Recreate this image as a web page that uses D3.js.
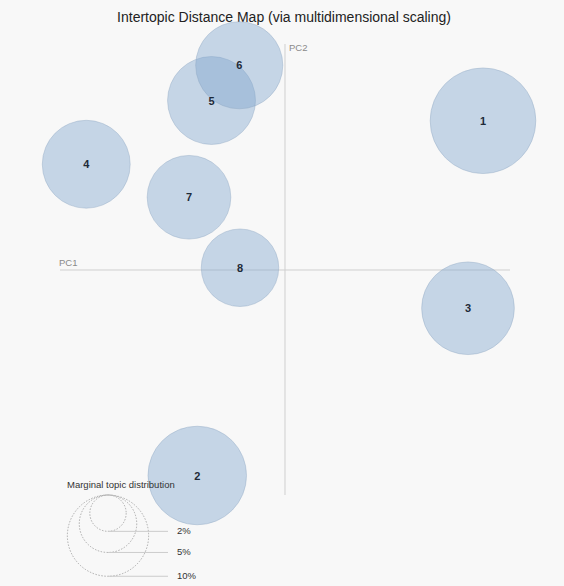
<!DOCTYPE html>
<html>
<head>
<meta charset="utf-8">
<script src="https://cdn.jsdelivr.net/npm/d3@7"></script>
<style>
  body { margin: 0; background: #f8f8f8; }
  svg { font-family: "Liberation Sans", Arial, sans-serif; }
</style>
</head>
<body>
<svg id="chart" width="564" height="586"></svg>
<script>
// topic data: MDS coordinates and marginal topic frequency (%)
var topics = [1, 2, 3, 4, 5, 6, 7, 8];
var pc1 = [0.264, -0.117, 0.244, -0.265, -0.098, -0.061, -0.128, -0.060];
var pc2 = [0.199, -0.274, -0.051, 0.141, 0.226, 0.273, 0.097, 0.003];
var freq = [16.9, 14.7, 13.0, 11.7, 11.7, 11.5, 10.6, 9.1];

var legendSizes = [2, 5, 10];
var legendLabels = ["2%", "5%", "10%"];

var svg = d3.select("#chart"),
  width = +svg.attr("width"),
  height = +svg.attr("height");

var x = d3.scaleLinear().domain([-0.3, 0.3]).range([60, 510]);
var y = d3.scaleLinear().domain([-0.3, 0.3]).range([495, 45]);
var r = d3.scaleSqrt().domain([0, 1]).range([0, 12.85]);

// title
svg.append("text")
  .attr("x", 284)
  .attr("y", 22)
  .attr("text-anchor", "middle")
  .attr("font-size", 14)
  .attr("fill", "#222")
  .text("Intertopic Distance Map (via multidimensional scaling)");

// axes lines
svg.append("line")
  .attr("x1", x(-0.3)).attr("x2", x(0.3))
  .attr("y1", y(0)).attr("y2", y(0))
  .attr("stroke", "#cfcfcf").attr("stroke-width", 1);
svg.append("line")
  .attr("x1", x(0)).attr("x2", x(0))
  .attr("y1", y(0.3) - 1).attr("y2", y(-0.3))
  .attr("stroke", "#cfcfcf").attr("stroke-width", 1);

svg.append("text")
  .attr("x", x(-0.3) - 1).attr("y", y(0) - 4)
  .attr("font-size", 9.5).attr("fill", "#8a8a8a")
  .text("PC1");
svg.append("text")
  .attr("x", x(0) + 4).attr("y", y(0.3) + 6)
  .attr("font-size", 9.5).attr("fill", "#8a8a8a")
  .text("PC2");

// topic circles
var data = topics.map(function(t, i) {
  return {topic: t, x: pc1[i], y: pc2[i], freq: freq[i]};
});

svg.append("g").selectAll("circle")
  .data(data)
  .enter().append("circle")
  .attr("cx", function(d) {return x(d.x)})
  .attr("cy", function(d) {return y(d.y)})
  .attr("r", function(d) {return r(d.freq)})
  .attr("fill", "#7fa5cc")
  .attr("fill-opacity", 0.42)
  .attr("stroke", "#8da6c0")
  .attr("stroke-opacity", 0.5)
  .attr("stroke-width", 0.8);

svg.append("g").selectAll("text")
  .data(data)
  .enter().append("text")
  .attr("x", function(d) {return x(d.x)})
  .attr("y", function(d) {return y(d.y) + 4})
  .attr("text-anchor", "middle")
  .attr("font-size", 11)
  .attr("font-weight", "bold")
  .attr("fill", "#1e2a38")
  .text(function(d) {return d.topic});

// legend for marginal topic distribution
var lx = 108, ltop = 495;

svg.append("text")
  .attr("x", 67).attr("y", 488)
  .attr("font-size", 9.5).attr("fill", "#333")
  .text("Marginal topic distribution");

var legend = svg.append("g");
legend.selectAll("circle")
  .data(legendSizes)
  .enter().append("circle")
  .attr("cx", lx)
  .attr("cy", function(d) {return ltop + r(d)})
  .attr("r", function(d) {return r(d)})
  .attr("fill", "none")
  .attr("stroke", "#999")
  .attr("stroke-width", 0.8)
  .attr("stroke-dasharray", "1.5 1.5");

legend.selectAll("line")
  .data(legendSizes)
  .enter().append("line")
  .attr("x1", lx).attr("x2", lx + 60)
  .attr("y1", function(d) {return ltop + 2 * r(d)})
  .attr("y2", function(d) {return ltop + 2 * r(d)})
  .attr("stroke", "#ccc")
  .attr("stroke-width", 1);

legend.selectAll("text")
  .data(legendSizes)
  .enter().append("text")
  .attr("x", lx + 69)
  .attr("y", function(d) {return ltop + 2 * r(d) + 3})
  .attr("font-size", 9.5)
  .attr("fill", "#333")
  .text(function(d, i) {return legendLabels[i]});
</script>
</body>
</html>
